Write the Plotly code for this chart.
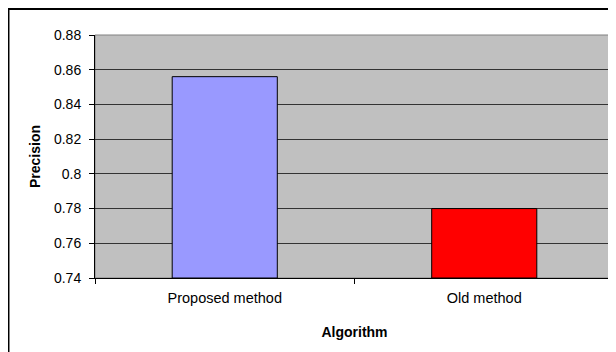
import plotly.graph_objects as go

categories = ["Proposed method", "Old method"]
precision = [0.856, 0.78]
bar_colors = ["#9999FF", "#FF0000"]
y_min = 0.74
y_tick_vals = [0.74, 0.76, 0.78, 0.80, 0.82, 0.84, 0.86, 0.88]
y_tick_text = ["0.74", "0.76", "0.78", "0.8", "0.82", "0.84", "0.86", "0.88"]

font_family = "Liberation Sans, Arial, sans-serif"

fig = go.Figure()
fig.add_trace(go.Bar(
    x=categories,
    y=[v - y_min for v in precision],
    base=y_min,
    marker=dict(color=bar_colors, line=dict(color="#000000", width=1)),
))

fig.update_layout(
    width=608, height=344,
    margin=dict(l=87, r=2, t=27, b=74),
    paper_bgcolor="white",
    plot_bgcolor="#C0C0C0",
    bargap=0.595,
    showlegend=False,
    font=dict(family=font_family, size=14, color="#000000"),
    xaxis=dict(
        type="category",
        showgrid=False,
        showline=True, linecolor="#000000", linewidth=1,
        ticks="outside", ticklen=5, tickcolor="#000000", tickwidth=1,
        tickson="boundaries",
        ticklabelstandoff=7,
        tickfont=dict(size=14.5),
        title=dict(text="<b>Algorithm</b>", font=dict(size=14), standoff=21),
    ),
    yaxis=dict(
        range=[0.74, 0.88],
        tickvals=y_tick_vals, ticktext=y_tick_text,
        showgrid=True, gridcolor="#333333", gridwidth=1,
        showline=True, linecolor="#000000", linewidth=1,
        ticks="outside", ticklen=5, tickcolor="#000000", tickwidth=1,
        ticklabelstandoff=5,
        tickfont=dict(size=14),
        zeroline=False,
        title=dict(text="<b>Precision</b>", font=dict(size=14), standoff=10),
    ),
    shapes=[
        dict(type="rect", xref="paper", yref="paper", x0=0, x1=1, y0=0, y1=1,
             line=dict(color="#808080", width=1), layer="below"),
        dict(type="rect", xref="paper", yref="paper", x0=-0.1667, x1=1.2,
             y0=-0.5, y1=1.107, line=dict(color="#000000", width=2)),
    ],
)

fig.write_html("out.html")
